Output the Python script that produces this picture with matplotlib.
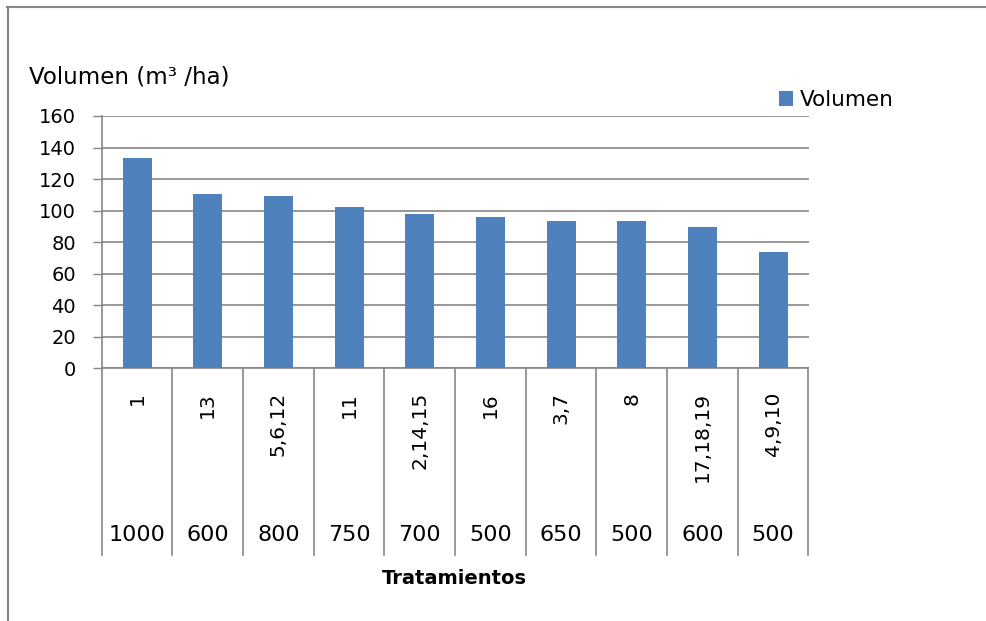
import matplotlib.pyplot as plt
from matplotlib.lines import Line2D
import matplotlib.transforms as mtransforms

plt.rcParams['font.family'] = ['DejaVu Sans']

# Tratamientos (inner level) and densidad (outer level)
tratamientos = ['1', '13', '5,6,12', '11', '2,14,15', '16', '3,7', '8', '17,18,19', '4,9,10']
densidad = ['1000', '600', '800', '750', '700', '500', '650', '500', '600', '500']
volumen = [133.4, 110.3, 109.3, 102.3, 97.8, 95.9, 93.4, 93.4, 89.6, 73.7]

bar_color = '#4F81BD'
grey = '#868686'

W, H = 986, 621
fig = plt.figure(figsize=(W / 100, H / 100), dpi=100)
ax = fig.add_axes([101.7 / W, 1 - 368.3 / H, (808.5 - 101.7) / W, (368.3 - 116) / H])

x = list(range(len(volumen)))
ax.bar(x, volumen, width=0.41, color=bar_color, label='Volumen', zorder=3)

ax.set_xlim(-0.5, len(volumen) - 0.5)
ax.set_ylim(0, 160)
ax.set_yticks(range(0, 161, 20))
ax.set_xticks([])
ax.yaxis.grid(True, color=grey, linewidth=1.2, zorder=0)
ax.tick_params(axis='y', direction='out', length=6.5, width=1, color=grey,
               labelsize=14, pad=12)
for s in ['top', 'right']:
    ax.spines[s].set_visible(False)
for s in ['left', 'bottom']:
    ax.spines[s].set_color(grey)
    ax.spines[s].set_linewidth(1.2)

# two-level category axis drawn below the plot
trans = mtransforms.blended_transform_factory(ax.transData, ax.transAxes)
px = 1 / (368.3 - 116)
for i in range(len(volumen) + 1):
    ax.add_line(Line2D([i - 0.5, i - 0.5], [0, -(555 - 368.3) * px],
                       transform=trans, color=grey, lw=1.2, clip_on=False))
for i, (t, d) in enumerate(zip(tratamientos, densidad)):
    ax.text(i, -(392 - 368.3) * px, t, transform=trans, rotation=90,
            ha='center', va='top', fontsize=14.5)
    ax.text(i, -(535 - 368.3) * px, d, transform=trans,
            ha='center', va='center', fontsize=16)

fig.text(454 / W, 1 - 578 / H, 'Tratamientos', ha='center', va='center',
         fontsize=14, fontweight='bold')
fig.text(29 / W, 1 - 77 / H, 'Volumen (m³ /ha)', ha='left', va='center', fontsize=16.5)

fig.legend(loc='center left', bbox_to_anchor=(779 / W, 1 - 100 / H), frameon=False,
           fontsize=15.5, handlelength=0.65, handleheight=0.65, handletextpad=0.3,
           borderaxespad=0, borderpad=0)

# outer chart frame (top and left edges)
fig.add_artist(Line2D([7 / W, 1], [1 - 6.5 / H, 1 - 6.5 / H], transform=fig.transFigure,
                      color=grey, lw=1.5))
fig.add_artist(Line2D([8 / W, 8 / W], [1 - 6.5 / H, 0], transform=fig.transFigure,
                      color=grey, lw=1.5))

plt.savefig('out.png', dpi=100)
